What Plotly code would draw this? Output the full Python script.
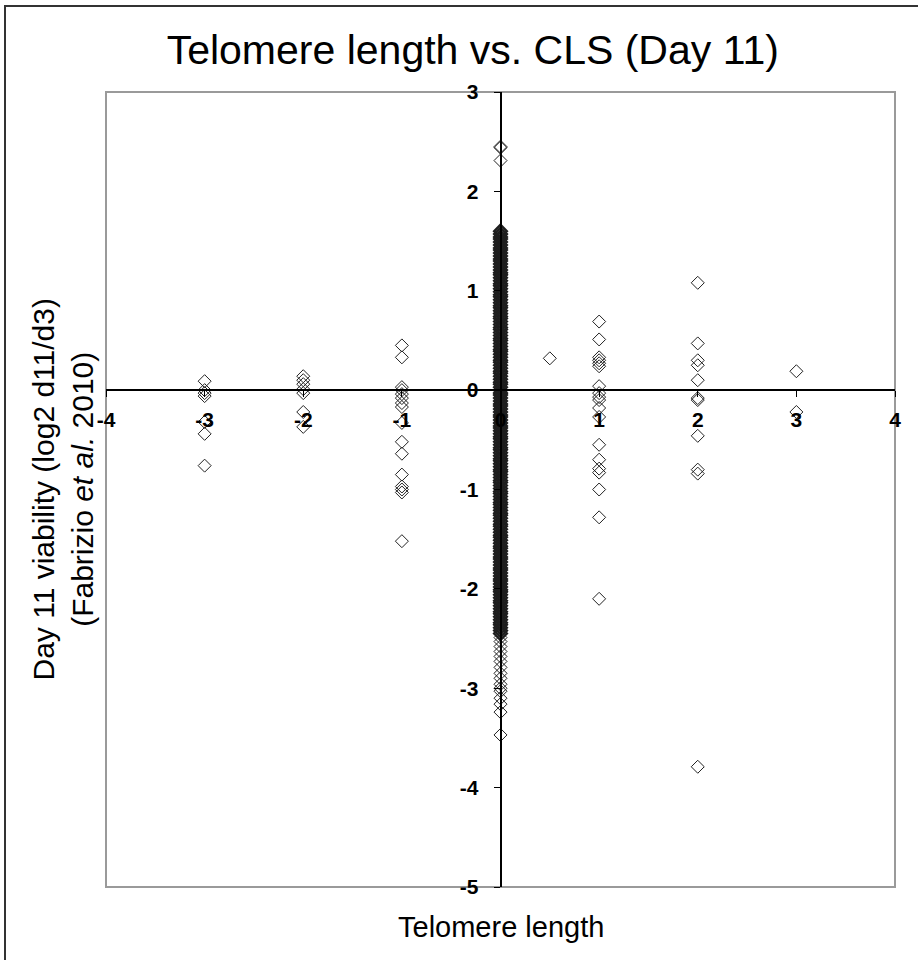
import plotly.graph_objects as go

# ---- data ----
tel_minus3 = [0.09, 0.00, -0.03, -0.06, -0.32, -0.44, -0.76]
tel_minus2 = [0.14, 0.10, 0.06, 0.01, -0.03, -0.22, -0.37]
tel_minus1 = [0.45, 0.33, 0.03, 0.00, -0.04, -0.08, -0.13, -0.17, -0.33,
              -0.52, -0.64, -0.85, -0.97, -1.00, -1.03, -1.52]
tel_half = [0.32]
tel_plus1 = [0.69, 0.51, 0.33, 0.30, 0.27, 0.24, 0.04, -0.03, -0.07, -0.10,
             -0.18, -0.27, -0.55, -0.70, -0.79, -0.83, -1.00, -1.28, -2.10]
tel_plus2 = [1.08, 0.47, 0.30, 0.25, 0.10, -0.08, -0.10, -0.46, -0.80, -0.84, -3.79]
tel_plus3 = [0.19, -0.22]
# x = 0: sparse outliers and the dense central column
tel_zero_sparse = [2.45, 2.44, 2.31,
                   -2.49, -2.53, -2.58, -2.63, -2.68, -2.73, -2.79, -2.85, -2.90, -2.96,
                   -3.00, -3.03, -3.10, -3.16, -3.24, -3.47]
tel_zero_dense = [
    1.60, 1.57, 1.54, 1.52, 1.49, 1.46, 1.43, 1.41, 1.38, 1.35, 1.32, 1.30,
    1.27, 1.24, 1.21, 1.18, 1.16, 1.13, 1.10, 1.07, 1.05, 1.02, 0.99, 0.96,
    0.94, 0.91, 0.88, 0.85, 0.83, 0.80, 0.77, 0.74, 0.72, 0.69, 0.66, 0.63,
    0.61, 0.58, 0.55, 0.52, 0.50, 0.47, 0.44, 0.41, 0.39, 0.36, 0.33, 0.30,
    0.28, 0.25, 0.22, 0.19, 0.17, 0.14, 0.11, 0.08, 0.06, 0.03, 0.00, -0.03,
    -0.05, -0.08, -0.11, -0.14, -0.16, -0.19, -0.22, -0.25, -0.27, -0.30,
    -0.33, -0.36, -0.38, -0.41, -0.44, -0.47, -0.49, -0.52, -0.55, -0.58,
    -0.60, -0.63, -0.66, -0.69, -0.71, -0.74, -0.77, -0.80, -0.82, -0.85,
    -0.88, -0.91, -0.93, -0.96, -0.99, -1.02, -1.04, -1.07, -1.10, -1.13,
    -1.15, -1.18, -1.21, -1.24, -1.26, -1.29, -1.32, -1.35, -1.37, -1.40,
    -1.43, -1.46, -1.48, -1.51, -1.54, -1.57, -1.59, -1.62, -1.65, -1.68,
    -1.70, -1.73, -1.76, -1.79, -1.81, -1.84, -1.87, -1.90, -1.92, -1.95,
    -1.98, -2.01, -2.03, -2.06, -2.09, -2.12, -2.14, -2.17, -2.20, -2.23,
    -2.25, -2.28, -2.31, -2.34, -2.36, -2.39, -2.42, -2.45]

groups = [(-3, tel_minus3), (-2, tel_minus2), (-1, tel_minus1), (0, tel_zero_sparse),
          (0.5, tel_half), (1, tel_plus1), (2, tel_plus2), (3, tel_plus3)]

x_ticks = [-4, -3, -2, -1, 0, 1, 2, 3, 4]
y_ticks = [-5, -4, -3, -2, -1, 0, 1, 2, 3]

xs, ys = [], []
for gx, vals in groups:
    xs += [gx] * len(vals)
    ys += vals

FONT = "Liberation Sans, Arial, sans-serif"
MARK = "#222222"

fig = go.Figure()
fig.add_trace(go.Scatter(
    x=[0] * len(tel_zero_dense), y=tel_zero_dense, mode="markers",
    marker=dict(symbol="diamond-open", size=10, color="#1e1e1e",
                line=dict(width=2.2, color="#1e1e1e")),
    showlegend=False, hoverinfo="skip"))
fig.add_trace(go.Scatter(
    x=xs, y=ys, mode="markers",
    marker=dict(symbol="diamond-open", size=10, color=MARK,
                line=dict(width=1, color=MARK)),
    showlegend=False, hoverinfo="skip"))

tick_font = dict(size=21, family=FONT, weight="bold", color="black")

fig.update_layout(
    width=918, height=960,
    margin=dict(l=106, r=23, t=92, b=73),
    paper_bgcolor="white", plot_bgcolor="white",
    font=dict(family=FONT, color="black"),
    title=dict(text="Telomere length vs. CLS (Day 11)", x=0.515, xanchor="center",
               y=1 - 50 / 960, yanchor="middle", yref="container",
               font=dict(size=41, family=FONT, color="black")),
    xaxis=dict(range=[-4, 4], tickvals=x_ticks, ticktext=[str(v) for v in x_ticks],
               showgrid=False, zeroline=False, showline=True, linecolor="black",
               linewidth=1.5, ticks="outside", ticklen=6, tickcolor="black",
               tickfont=tick_font, ticklabelstandoff=5,
               anchor="free", position=0.625, domain=[0, 1]),
    yaxis=dict(range=[-5, 3], tickvals=y_ticks, ticktext=[str(v) for v in y_ticks],
               showgrid=False, zeroline=False, showline=True, linecolor="black",
               linewidth=1.5, ticks="outside", ticklen=6, tickcolor="black",
               tickfont=tick_font, ticklabelstandoff=11,
               anchor="free", position=0.5, domain=[0, 1]),
    shapes=[
        dict(type="rect", xref="paper", yref="paper", x0=0, x1=1, y0=0, y1=1,
             line=dict(color="#9a9a9a", width=2), layer="below"),
        dict(type="rect", xref="paper", yref="paper",
             x0=(5 - 106) / 789, x1=(930 - 106) / 789,
             y0=(887 - 970) / 795, y1=(887 - 6) / 795,
             line=dict(color="#333333", width=2)),
    ],
    annotations=[
        dict(text="Telomere length", xref="paper", yref="paper",
             x=(501 - 106) / 789, y=(887 - 927) / 795, xanchor="center", yanchor="middle",
             showarrow=False, font=dict(size=29, family=FONT, color="black")),
        dict(text="Day 11 viability (log2 d11/d3)<br>(Fabrizio <i>et al.</i> 2010)",
             xref="paper", yref="paper", x=(62 - 106) / 789, y=0.5,
             xanchor="center", yanchor="middle", textangle=-90, showarrow=False,
             font=dict(size=30, family=FONT, color="black")),
    ],
)

fig.write_html("out.html")
